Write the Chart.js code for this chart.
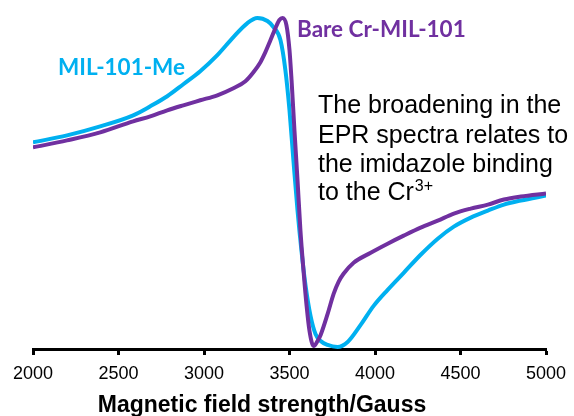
<!DOCTYPE html>
<html>
<head>
<meta charset="utf-8">
<script src="https://cdn.jsdelivr.net/npm/chart.js@4/dist/chart.umd.min.js"></script>
<style>
  html, body { margin: 0; padding: 0; background: #fff; }
  #wrap { width: 574px; height: 416px; }
</style>
</head>
<body>
<div id="wrap"><canvas id="epr"></canvas></div>
<script>
// x ticks (Gauss)
const fieldTicks = [2000, 2500, 3000, 3500, 4000, 4500, 5000];

// MIL-101-Me (blue), field in Gauss / signal in arbitrary units
const fieldMe = [2000, 2199, 2393, 2586, 2686, 2785, 2879, 2978, 3078, 3172, 3254, 3312, 3371, 3406, 3447, 3476, 3500, 3523, 3547, 3570, 3594, 3623, 3652, 3682, 3723, 3781, 3840, 3916, 3992, 4074, 4168, 4267, 4367, 4461, 4560, 4660, 4754, 4853, 5000];
const signalMe = [205, 212, 221, 232, 241, 251, 263, 276, 292, 310, 324, 329, 326, 320, 307, 277, 237, 187, 137, 97, 62, 32, 14, 7, 3, 1, 6, 23, 42, 58, 75, 93, 109, 121, 130, 137, 143, 147, 152];

// Bare Cr-MIL-101 (purple)
const fieldBare = [2000, 2199, 2393, 2586, 2686, 2785, 2879, 2978, 3078, 3172, 3242, 3289, 3330, 3359, 3389, 3418, 3441, 3459, 3482, 3500, 3512, 3529, 3547, 3564, 3582, 3600, 3617, 3641, 3664, 3682, 3723, 3758, 3787, 3816, 3875, 3975, 4074, 4168, 4267, 4367, 4461, 4560, 4660, 4754, 4853, 5000];
const signalBare = [200, 207, 215, 226, 231, 237, 242, 247, 252, 259, 266, 275, 285, 295, 307, 319, 327, 329, 322, 297, 267, 217, 167, 117, 77, 42, 17, 2, 7, 13, 34, 54, 66, 74, 85, 95, 104, 112, 120, 127, 134, 139, 143, 148, 151, 154];

const seriesNames = ["MIL-101-Me", "Bare Cr-MIL-101"];
const noteLines = ["The broadening in the", "EPR spectra relates to", "the imidazole binding", "to the Cr"];
const axisTitle = "Magnetic field strength/Gauss";

const BLUE = "#00B0F0";
const PURPLE = "#7030A0";

function toPoints(xs, ys) {
  return xs.map((x, i) => ({ x: x, y: ys[i] }));
}

// draws the in-plot labels, the note and the x axis title
const textPlugin = {
  id: "textPlugin",
  afterDraw(chart) {
    const ctx = chart.ctx;
    ctx.save();
    ctx.textBaseline = "alphabetic";
    ctx.textAlign = "left";

    ctx.font = "bold 22.5px Lato";
    ctx.fillStyle = BLUE;
    ctx.fillText(seriesNames[0], 58, 75);
    ctx.fillStyle = PURPLE;
    ctx.fillText(seriesNames[1], 297, 37);

    ctx.font = "25px 'Liberation Sans'";
    ctx.fillStyle = "#000";
    const base = [113, 143, 172, 200];
    noteLines.forEach((line, i) => {
      ctx.fillText(line, 318, base[i]);
    });
    const w = ctx.measureText(noteLines[3]).width;
    ctx.font = "16px 'Liberation Sans'";
    ctx.fillText("3+", 318 + w + 1, 191);

    ctx.font = "bold 23px 'Liberation Sans'";
    ctx.textAlign = "center";
    ctx.fillText(axisTitle, 262, 412);
    ctx.restore();
  },
};

new Chart(document.getElementById("epr"), {
  type: "line",
  data: {
    datasets: [
      {
        label: seriesNames[1],
        data: toPoints(fieldBare, signalBare),
        borderColor: PURPLE,
        borderWidth: 4,
        pointRadius: 0,
        cubicInterpolationMode: "monotone",
      },
      {
        label: seriesNames[0],
        data: toPoints(fieldMe, signalMe),
        borderColor: BLUE,
        borderWidth: 4,
        pointRadius: 0,
        cubicInterpolationMode: "monotone",
      },
    ],
  },
  options: {
    responsive: true,
    maintainAspectRatio: false,
    animation: false,
    layout: { padding: { left: 33, right: 28, top: 6, bottom: 22 } },
    plugins: {
      legend: { display: false },
      tooltip: { enabled: false },
    },
    scales: {
      x: {
        type: "linear",
        min: 2000,
        max: 5000,
        afterBuildTicks: (axis) => {
          axis.ticks = fieldTicks.map((v) => ({ value: v }));
        },
        grid: {
          drawOnChartArea: false,
          drawTicks: true,
          tickLength: 6,
          tickWidth: 3,
          tickColor: "#000",
        },
        border: { display: true, color: "#000", width: 3 },
        ticks: {
          color: "#000",
          font: { family: "'Liberation Sans'", size: 18, lineHeight: 1.5 },
          padding: 6,
          maxRotation: 0,
          callback: (v) => String(v),
        },
      },
      y: {
        display: false,
        min: -1,
        max: 341,
      },
    },
  },
  plugins: [textPlugin],
});
</script>
</body>
</html>
